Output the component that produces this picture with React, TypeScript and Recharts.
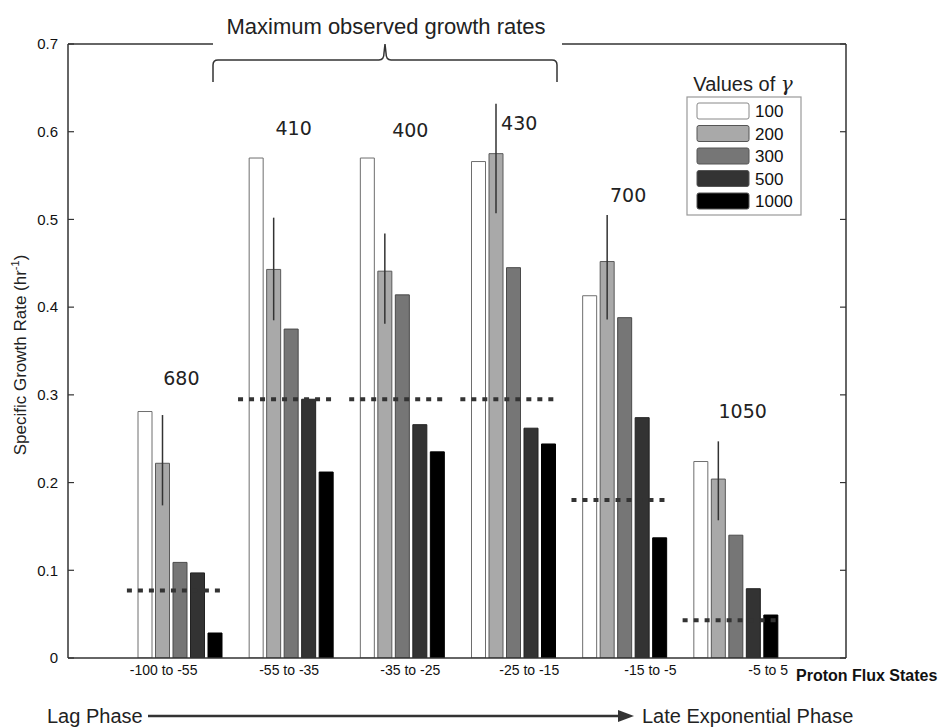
import {
  ComposedChart,
  Bar,
  XAxis,
  YAxis,
  ErrorBar,
  ReferenceLine,
  ReferenceDot,
} from "recharts";

const categories = ["-100 to -55", "-55 to -35", "-35 to -25", "-25 to -15", "-15 to -5", "-5 to 5"];

const gamma100 = [0.281, 0.57, 0.57, 0.566, 0.413, 0.224];
const gamma200 = [0.222, 0.443, 0.441, 0.575, 0.452, 0.204];
const gamma200Low = [0.174, 0.385, 0.381, 0.507, 0.386, 0.157];
const gamma200High = [0.277, 0.502, 0.484, 0.632, 0.505, 0.247];
const gamma300 = [0.109, 0.375, 0.414, 0.445, 0.388, 0.14];
const gamma500 = [0.097, 0.295, 0.266, 0.262, 0.274, 0.079];
const gamma1000 = [0.0285, 0.212, 0.235, 0.244, 0.137, 0.049];

// dotted threshold per flux state
const thresholds = [0.077, 0.295, 0.295, 0.295, 0.18, 0.043];

// numbers written above each group
const peakLabels = ["680", "410", "400", "430", "700", "1050"];
const peakLabelX = [1.02, 2.03, 3.08, 4.06, 5.04, 6.07];
const peakLabelY = [0.319, 0.604, 0.602, 0.61, 0.528, 0.281];

// where the category names sit on the bottom axis (0..7 axis units)
const categoryLabelPos = [0.86, 1.99, 3.08, 4.15, 5.24, 6.3];

const yTicks = [0, 0.1, 0.2, 0.3, 0.4, 0.5, 0.6, 0.7];
const yTickLabels = ["0", "0.1", "0.2", "0.3", "0.4", "0.5", "0.6", "0.7"];

const series = [
  { key: "g100", name: "100", fill: "#ffffff", stroke: "#6e6e6e" },
  { key: "g200", name: "200", fill: "#a9a9a9", stroke: "#5a5a5a" },
  { key: "g300", name: "300", fill: "#767676", stroke: "#4a4a4a" },
  { key: "g500", name: "500", fill: "#333333", stroke: "#222222" },
  { key: "g1000", name: "1000", fill: "#000000", stroke: "#000000" },
];

const data = categories.map((cat, i) => ({
  cat,
  idx: i + 1,
  g100: gamma100[i],
  g200: gamma200[i],
  g200err: [gamma200[i] - gamma200Low[i], gamma200High[i] - gamma200[i]],
  g300: gamma300[i],
  g500: gamma500[i],
  g1000: gamma1000[i],
}));

const sans = "'Liberation Sans', Arial, Helvetica, sans-serif";

// left tick: label outside, short tick line pointing into the plot
function LeftTick(props: any) {
  const { x, y, payload } = props;
  const i = yTicks.indexOf(payload.value);
  return (
    <g>
      <text x={x} y={y} dy="0.355em" textAnchor="end" fontSize={15} fontFamily={sans} fill="#111">
        {yTickLabels[i] ?? payload.value}
      </text>
      <line x1={x + 10} y1={y} x2={x + 16} y2={y} stroke="#333" strokeWidth={1.2} />
    </g>
  );
}

// right tick: no label, tick line pointing into the plot
function RightTick(props: any) {
  const { x, y } = props;
  return <line x1={x - 6} y1={y} x2={x} y2={y} stroke="#333" strokeWidth={1.2} />;
}

function Overlay() {
  return (
    <svg
      width={939}
      height={728}
      style={{ position: "absolute", left: 0, top: 0, pointerEvents: "none" }}
      fontFamily={sans}
    >
      {/* top box edge, broken by the bracket title */}
      <line x1={68} y1={44} x2={213} y2={44} stroke="#333" strokeWidth={1.5} />
      <line x1={562} y1={44} x2={846} y2={44} stroke="#333" strokeWidth={1.5} />
      <text x={386} y={34} textAnchor="middle" fontSize={22} fill="#222">
        Maximum observed growth rates
      </text>
      <path
        d="M213,82 L213,65 Q213,60 218,60 L379,60 Q384,60 384,53 L385,44 L386,53 Q386,60 391,60 L552,60 Q557,60 557,65 L557,82"
        fill="none"
        stroke="#333"
        strokeWidth={1.5}
      />

      {/* y axis title */}
      <text
        transform="translate(26,355) rotate(-90)"
        textAnchor="middle"
        fontSize={17}
        fill="#222"
      >
        Specific Growth Rate (hr
        <tspan dy={-7} fontSize={11}>-1</tspan>
        <tspan dy={7}>)</tspan>
      </text>

      <text x={796} y={681} fontSize={16} fontWeight="bold" fill="#111">
        Proton Flux States
      </text>

      {/* phase arrow */}
      <text x={47} y={723} fontSize={20} fill="#222">Lag Phase</text>
      <line x1={148} y1={716} x2={622} y2={716} stroke="#333" strokeWidth={2.5} />
      <polygon points="618,710 634,716 618,722" fill="#333" />
      <text x={642} y={723} fontSize={20} fill="#222">Late Exponential Phase</text>

      {/* legend */}
      <text x={743} y={91} textAnchor="middle" fontSize={20} fill="#222">
        Values of <tspan fontStyle="italic" fontFamily="'DejaVu Serif', serif">γ</tspan>
      </text>
      <rect x={687} y={97} width={114} height={118} fill="#fff" stroke="#999" strokeWidth={1.2} />
      {series.map((s, i) => (
        <g key={s.key}>
          <rect
            x={697}
            y={103 + i * 22.5}
            width={52}
            height={16}
            rx={2}
            fill={s.fill}
            stroke={s.key === "g100" ? "#888" : "#555"}
            strokeWidth={1}
          />
          <text x={755} y={117 + i * 22.5} fontSize={17} fill="#111">
            {s.name}
          </text>
        </g>
      ))}
    </svg>
  );
}

export default function App() {
  return (
    <div
      style={{
        position: "absolute",
        left: 0,
        top: 0,
        width: 939,
        height: 728,
        background: "#fff",
      }}
    >
      <ComposedChart
        width={939}
        height={728}
        data={data}
        margin={{ top: 44, right: 0, bottom: 0, left: 0 }}
        barSize={14}
        barGap={3.5}
      >
        <XAxis dataKey="cat" hide height={0} padding={{ left: 56, right: 55 }} />
        <XAxis
          xAxisId="num"
          type="number"
          dataKey="idx"
          domain={[0, 7]}
          allowDataOverflow
          ticks={categoryLabelPos}
          interval={0}
          tickFormatter={(v: number) => categories[categoryLabelPos.indexOf(v)] ?? ""}
          tickLine={false}
          tickSize={0}
          tickMargin={7}
          height={70}
          axisLine={{ stroke: "#333", strokeWidth: 1.5 }}
          tick={{ fontSize: 14, fontFamily: sans, fill: "#111" }}
        />
        <YAxis
          domain={[0, 0.7]}
          ticks={yTicks}
          allowDataOverflow
          width={68}
          tickLine={false}
          tickSize={0}
          tickMargin={10}
          axisLine={{ stroke: "#333", strokeWidth: 1.5 }}
          tick={<LeftTick />}
        />
        <YAxis
          yAxisId="r"
          orientation="right"
          width={93}
          domain={[0, 0.7]}
          ticks={yTicks}
          allowDataOverflow
          tickLine={false}
          tickSize={0}
          tickMargin={0}
          axisLine={{ stroke: "#333", strokeWidth: 1.5 }}
          tick={<RightTick />}
        />

        {series.map((s) => (
          <Bar
            key={s.key}
            dataKey={s.key}
            name={s.name}
            fill={s.fill}
            stroke={s.stroke}
            strokeWidth={1}
            isAnimationActive={false}
          >
            {s.key === "g200" && (
              <ErrorBar
                dataKey="g200err"
                direction="y"
                width={0}
                stroke="#333"
                strokeWidth={1.5}
                isAnimationActive={false}
              />
            )}
          </Bar>
        ))}

        {thresholds.map((t, i) => (
          <ReferenceLine
            key={"thr" + i}
            xAxisId="num"
            yAxisId="r"
            segment={[
              { x: i + 1 - 0.47, y: t },
              { x: i + 1 + 0.41, y: t },
            ]}
            stroke="#333"
            strokeWidth={4}
            strokeDasharray="5 6"
          />
        ))}

        {peakLabels.map((lbl, i) => (
          <ReferenceDot
            key={"pk" + i}
            xAxisId="num"
            yAxisId="r"
            x={peakLabelX[i]}
            y={peakLabelY[i]}
            r={1}
            fill="none"
            stroke="none"
            label={{
              value: lbl,
              position: "center",
              fontSize: 19,
              fontFamily: "'DejaVu Sans', Verdana, sans-serif",
              fill: "#222",
            }}
          />
        ))}
      </ComposedChart>
      <Overlay />
    </div>
  );
}
